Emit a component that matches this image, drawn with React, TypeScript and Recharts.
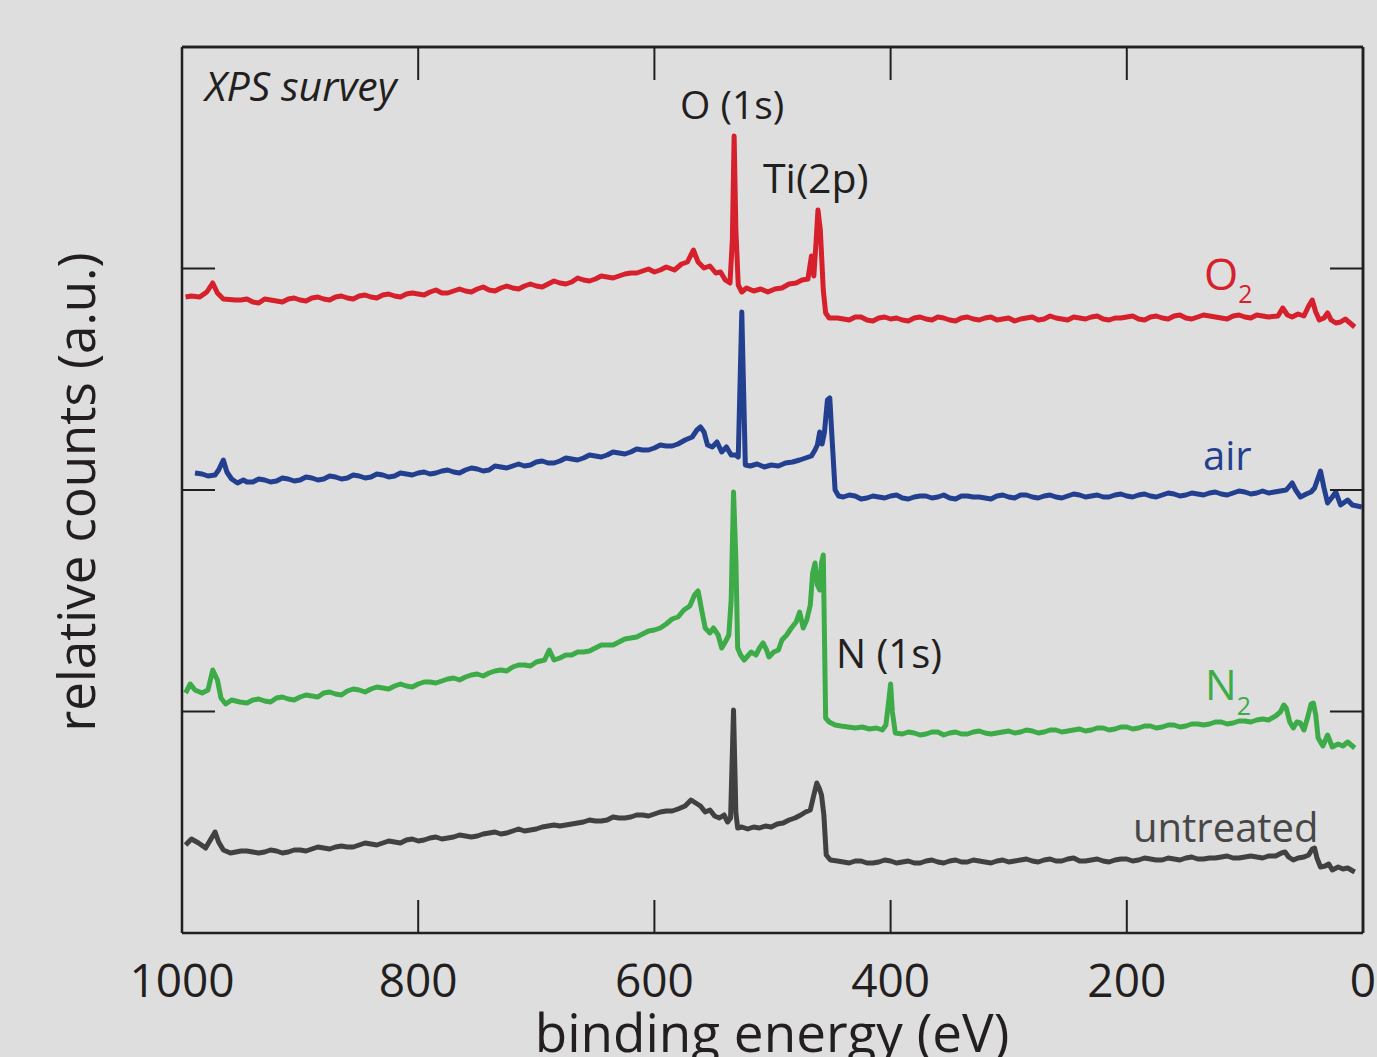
import { LineChart, Line, XAxis, YAxis, ReferenceLine } from 'recharts';

const W = 1377;
const H = 1057;
const INK = '#231f20';
const FONT = '"Open Sans", "Noto Sans", sans-serif';

const RED = '#d6202b';
const BLUE = '#233f8f';
const GREEN = '#3dab48';
const GRAY = '#414141';

// [binding energy (eV), relative counts]
const untreated: [number, number][] = [
  [997, 88], [992, 94], [986, 90], [980, 85], [976, 93], [972, 101], [969, 91], [965, 83], [959, 80], [950, 82],
  [940, 81], [930, 81], [920, 82], [910, 81], [900, 83], [890, 84], [880, 85], [870, 86], [860, 86], [850, 88],
  [840, 89], [830, 90], [820, 91], [810, 93], [800, 92], [790, 95], [780, 94], [770, 96], [760, 97], [750, 97],
  [740, 100], [730, 99], [720, 102], [710, 102], [700, 104], [690, 107], [680, 107], [670, 109], [660, 111], [650, 112],
  [640, 113], [630, 115], [620, 116], [610, 118], [600, 119], [590, 122], [580, 124], [574, 127], [569, 133], [565, 130],
  [561, 127], [557, 121], [553, 123], [549, 117], [545, 115], [541, 118], [538, 111], [535.5, 115], [533, 223], [531, 120],
  [529.5, 105], [526, 106], [521, 104], [516, 106], [511, 105], [506, 107], [501, 106], [496, 109], [491, 110], [486, 113],
  [481, 115], [476, 118], [472, 121], [468, 123], [465, 138], [462.5, 150], [460.5, 145], [458.5, 138], [456.5, 118], [454.5, 78],
  [451, 73], [445, 72], [440, 71], [430, 72], [420, 70], [410, 71], [400, 72], [390, 71], [380, 70], [370, 72],
  [360, 71], [350, 72], [340, 71], [330, 73], [320, 71], [310, 72], [300, 71], [290, 73], [280, 72], [270, 73],
  [260, 72], [250, 74], [240, 72], [230, 73], [220, 72], [210, 73], [200, 74], [190, 73], [180, 74], [170, 73],
  [160, 74], [150, 75], [140, 74], [130, 75], [120, 76], [110, 75], [100, 76], [90, 76], [80, 77], [74, 77],
  [69, 80], [66, 81], [63, 76], [59, 73], [55, 75], [50, 76], [46, 78], [43, 84], [41, 85], [39, 75],
  [36, 66], [32, 67], [29, 69], [26, 63], [21, 66], [17, 64], [13, 65], [7, 61],
];
// extra readings between the 10 eV steps (the fine noise on the background)
const untreatedFine: [number, number][] = [
  [945, 82], [935, 80], [925, 83], [915, 80], [905, 83], [895, 82], [885, 86], [875, 84], [865, 87], [855, 86],
  [845, 90], [835, 88], [825, 92], [815, 90], [805, 94], [795, 93], [785, 96], [775, 95], [765, 98], [755, 96],
  [745, 99], [735, 101], [725, 100], [715, 104], [705, 103], [695, 106], [685, 108], [675, 108], [665, 110], [655, 113],
  [645, 112], [635, 116], [625, 115], [615, 118], [605, 117], [595, 121], [585, 122],
  [435, 70], [425, 72], [415, 70], [405, 73], [395, 70], [385, 72], [375, 70], [365, 73], [355, 70], [345, 73],
  [335, 71], [325, 72], [315, 70], [305, 73], [295, 72], [285, 74], [275, 71], [265, 74], [255, 72], [245, 75],
  [235, 72], [225, 74], [215, 71], [205, 74], [195, 72], [185, 75], [175, 73], [165, 75], [155, 73], [145, 76],
  [135, 74], [125, 75], [115, 77], [105, 75], [95, 77], [85, 75],
];

const nitrogen: [number, number][] = [
  [997, 240], [993, 249], [989, 243], [983, 240], [978, 243], [974, 263], [970, 253], [967, 235], [963, 229], [958, 233],
  [951, 231], [940, 233], [930, 232], [920, 235], [910, 234], [900, 236], [890, 237], [880, 240], [870, 239], [860, 242],
  [850, 243], [840, 244], [830, 245], [820, 247], [810, 247], [800, 249], [790, 251], [780, 252], [770, 255], [760, 256],
  [750, 259], [740, 260], [730, 263], [720, 266], [710, 268], [700, 271], [693, 273], [689, 283], [685, 273], [680, 275],
  [670, 278], [660, 281], [650, 285], [640, 288], [630, 291], [620, 295], [610, 299], [600, 303], [590, 309], [580, 316],
  [575, 323], [570, 327], [566, 338], [563, 342], [560, 323], [557, 305], [553, 300], [550, 305], [546, 298], [543, 285],
  [540, 291], [537, 298], [535, 333], [533, 441], [531, 373], [529.5, 285], [527, 278], [524, 273], [521, 277], [518, 281],
  [514, 278], [511, 285], [508, 290], [505, 283], [503, 276], [499, 281], [495, 283], [492, 293], [488, 298], [484, 305],
  [480, 311], [477, 321], [474, 305], [471, 313], [468, 328], [466, 360], [464, 370], [462, 348], [460, 343], [458.5, 370],
  [457, 378], [455, 215], [452, 211], [447, 208], [442, 207], [436, 206], [430, 205], [424, 206], [418, 204], [412, 205],
  [407, 203], [404, 208], [401.5, 233], [400, 249], [398.5, 221], [396, 200], [390, 199], [380, 200], [370, 199], [360, 201],
  [350, 200], [340, 199], [330, 201], [320, 200], [310, 200], [300, 202], [290, 201], [280, 202], [270, 201], [260, 203],
  [250, 202], [240, 204], [230, 203], [220, 205], [210, 204], [200, 206], [190, 205], [180, 207], [170, 206], [160, 208],
  [150, 207], [140, 209], [130, 209], [120, 211], [110, 210], [100, 212], [90, 213], [80, 213], [74, 217], [70, 221],
  [67, 228], [65, 225], [62, 211], [59, 205], [56, 211], [53, 210], [50, 203], [47, 215], [44, 229], [42, 230],
  [40, 218], [38, 195], [34, 187], [30, 198], [26, 186], [21, 189], [17, 187], [13, 191], [7, 185],
];
const nitrogenFine: [number, number][] = [
  [945, 230], [935, 234], [925, 231], [915, 236], [905, 233], [895, 238], [885, 236], [875, 241], [865, 238], [855, 244],
  [845, 241], [835, 246], [825, 244], [815, 249], [805, 246], [795, 251], [785, 250], [775, 254], [765, 253], [755, 258],
  [745, 257], [735, 262], [725, 262], [715, 268], [705, 267], [675, 278], [665, 281], [655, 282], [645, 288], [635, 288],
  [625, 294], [615, 296], [605, 302], [595, 305], [585, 314],
  [385, 201], [375, 198], [365, 201], [355, 198], [345, 201], [335, 199], [325, 202], [315, 199], [305, 201], [295, 200],
  [285, 203], [275, 200], [265, 203], [255, 201], [245, 203], [235, 202], [225, 205], [215, 203], [205, 206], [195, 204],
  [185, 207], [175, 205], [165, 208], [155, 206], [145, 209], [135, 208], [125, 211], [115, 209], [105, 212], [95, 211],
  [85, 214],
];

const air: [number, number][] = [
  [989, 460], [983, 459], [978, 457], [972, 458], [969, 463], [965, 473], [962, 461], [958, 454], [953, 450], [948, 453],
  [940, 451], [930, 453], [920, 452], [910, 454], [900, 453], [890, 455], [880, 454], [870, 456], [860, 455], [850, 457],
  [840, 456], [830, 458], [820, 457], [810, 459], [800, 460], [790, 459], [780, 462], [770, 461], [760, 463], [750, 464],
  [740, 463], [730, 466], [720, 467], [710, 467], [700, 471], [690, 470], [680, 472], [670, 474], [660, 475], [650, 477],
  [640, 478], [630, 480], [620, 481], [610, 483], [600, 485], [590, 487], [580, 489], [574, 493], [568, 496], [564, 503],
  [561, 506], [558, 501], [555, 488], [551, 486], [547, 491], [543, 481], [539, 486], [535, 478], [531, 478], [529, 476],
  [526, 621], [523, 468], [519, 467], [513, 469], [507, 466], [501, 468], [495, 467], [489, 470], [483, 471], [477, 473],
  [472, 475], [467, 477], [464, 483], [462, 488], [460, 501], [458, 489], [456, 501], [453.5, 533], [451.5, 535], [449.5, 493],
  [447, 443], [444, 437], [440, 436], [430, 437], [420, 435], [410, 436], [400, 437], [390, 435], [380, 436], [370, 437],
  [360, 436], [350, 435], [340, 437], [330, 436], [320, 435], [310, 437], [300, 436], [290, 438], [280, 436], [270, 437],
  [260, 436], [250, 437], [240, 438], [230, 437], [220, 436], [210, 438], [200, 437], [190, 438], [180, 437], [170, 438],
  [160, 439], [150, 438], [140, 439], [130, 440], [120, 439], [110, 440], [100, 441], [90, 440], [80, 440], [75, 441],
  [70, 442], [65, 443], [60, 450], [57, 443], [53, 436], [48, 439], [44, 441], [41, 445], [36, 462], [33, 445],
  [30, 430], [26, 436], [23, 441], [19, 428], [13, 433], [9, 428], [1, 426],
];
const airFine: [number, number][] = [
  [945, 451], [935, 454], [925, 451], [915, 455], [905, 452], [895, 456], [885, 453], [875, 457], [865, 454], [855, 458],
  [845, 455], [835, 459], [825, 456], [815, 460], [805, 458], [795, 461], [785, 460], [775, 463], [765, 460], [755, 465],
  [745, 462], [735, 467], [725, 465], [715, 469], [705, 468], [695, 472], [685, 470], [675, 475], [665, 473], [655, 478],
  [645, 476], [635, 481], [625, 479], [615, 484], [605, 483], [595, 488], [585, 487],
  [435, 438], [425, 434], [415, 437], [405, 435], [395, 438], [385, 434], [375, 437], [365, 435], [355, 438], [345, 434],
  [335, 437], [325, 436], [315, 434], [305, 438], [295, 435], [285, 438], [275, 435], [265, 438], [255, 435], [245, 439],
  [235, 436], [225, 438], [215, 436], [205, 439], [195, 436], [185, 439], [175, 436], [165, 440], [155, 437], [145, 440],
  [135, 438], [125, 441], [115, 438], [105, 442], [95, 439], [85, 442],
];

const oxygen: [number, number][] = [
  [997, 636], [992, 637], [985, 636], [979, 641], [974, 650], [970, 640], [965, 634], [955, 633], [950, 633], [940, 631],
  [930, 634], [920, 632], [910, 634], [900, 633], [890, 635], [880, 634], [870, 636], [860, 635], [850, 637], [840, 636],
  [830, 638], [820, 637], [810, 639], [800, 639], [790, 641], [780, 640], [770, 642], [760, 642], [750, 644], [740, 643],
  [730, 645], [720, 645], [710, 647], [700, 647], [690, 649], [680, 650], [670, 651], [660, 653], [650, 654], [640, 656],
  [630, 657], [620, 660], [610, 662], [600, 661], [590, 666], [583, 663], [577, 669], [572, 671], [567, 683], [563, 671],
  [558, 665], [553, 667], [548, 660], [544, 661], [540, 653], [536, 650], [534, 693], [532.5, 797], [531, 703], [529, 648],
  [526, 641], [522, 645], [516, 642], [510, 644], [504, 641], [498, 644], [492, 645], [486, 649], [480, 650], [475, 653],
  [470, 654], [467, 677], [465, 657], [463, 693], [461.5, 723], [459.5, 703], [457, 643], [455, 620], [452, 615], [445, 615],
  [440, 614], [430, 616], [420, 613], [410, 615], [400, 614], [390, 613], [380, 615], [370, 614], [360, 616], [350, 613],
  [340, 615], [330, 614], [320, 615], [310, 613], [300, 615], [290, 614], [280, 616], [270, 614], [260, 615], [250, 613],
  [240, 615], [230, 616], [220, 614], [210, 615], [200, 616], [190, 614], [180, 616], [170, 615], [160, 617], [150, 615],
  [140, 616], [130, 617], [120, 615], [110, 617], [100, 616], [90, 618], [80, 616], [72, 617], [68, 625], [64, 618],
  [60, 616], [55, 619], [50, 617], [46, 627], [43, 633], [40, 621], [37, 613], [33, 615], [30, 620], [27, 613],
  [23, 610], [19, 611], [15, 614], [11, 610], [7, 606],
];
const oxygenFine: [number, number][] = [
  [945, 634], [935, 630], [925, 633], [915, 631], [905, 635], [895, 632], [885, 636], [875, 633], [865, 637], [855, 634],
  [845, 638], [835, 635], [825, 639], [815, 636], [805, 640], [795, 638], [785, 643], [775, 640], [765, 644], [755, 641],
  [745, 646], [735, 642], [725, 647], [715, 644], [705, 649], [695, 646], [685, 652], [675, 649], [665, 655], [655, 652],
  [645, 657], [635, 655], [625, 659], [615, 660], [605, 664], [595, 663],
  [435, 613], [425, 616], [415, 612], [405, 616], [395, 615], [385, 612], [375, 616], [365, 613], [355, 615], [345, 612],
  [335, 616], [325, 613], [315, 616], [305, 614], [295, 612], [285, 615], [275, 613], [265, 617], [255, 614], [245, 616],
  [235, 614], [225, 617], [215, 613], [205, 615], [195, 617], [185, 613], [175, 617], [165, 614], [155, 618], [145, 614],
  [135, 618], [125, 616], [115, 614], [105, 618], [95, 615], [85, 617],
];

const energyTicks = [1000, 800, 600, 400, 200, 0];
const innerEnergyTicks = [800, 600, 400, 200];
const countTicks = [221.5, 443, 664.5];
const countMax = 886;
const energyMax = 1000;

// merge the coarse and fine readings, high binding energy first
const toPoints = (...parts: [number, number][][]) =>
  parts
    .flat()
    .map(([e, c]) => ({ e, c }))
    .sort((a, b) => b.e - a.e);

const TICK = 33;

const BottomTick = ({ x, y, payload }: any) => (
  <g>
    <line x1={x} y1={y} x2={x} y2={y - TICK} stroke={INK} strokeWidth={2} />
    <text x={x} y={y + 64} textAnchor="middle" fontSize={46} fill={INK} fontFamily={FONT}>
      {payload.value}
    </text>
  </g>
);

const TopTick = ({ x, y }: any) => <line x1={x} y1={y} x2={x} y2={y + TICK} stroke={INK} strokeWidth={2} />;
const LeftTick = ({ x, y }: any) => <line x1={x} y1={y} x2={x + TICK} y2={y} stroke={INK} strokeWidth={2} />;
const RightTick = ({ x, y }: any) => <line x1={x} y1={y} x2={x - TICK} y2={y} stroke={INK} strokeWidth={2} />;

const axisLine = { stroke: INK, strokeWidth: 2.5 };

export default function App() {
  // the lower two spectra sit on the bottom/left axes, the upper two on the top/right ones
  // (same domains, so same scale) so that all four frame axes get drawn
  const series = [
    { key: 'untreated', data: toPoints(untreated, untreatedFine), color: GRAY, xId: 'b', yId: 'l' },
    { key: 'N2', data: toPoints(nitrogen, nitrogenFine), color: GREEN, xId: 'b', yId: 'l' },
    { key: 'air', data: toPoints(air, airFine), color: BLUE, xId: 't', yId: 'r' },
    { key: 'O2', data: toPoints(oxygen, oxygenFine), color: RED, xId: 't', yId: 'r' },
  ];

  return (
    <div style={{ position: 'absolute', left: 0, top: 0, width: W, height: H, background: '#dedede', overflow: 'hidden' }}>
      <LineChart width={W} height={H} margin={{ top: 46, right: 0, bottom: 0, left: 0 }}>
        <XAxis
          xAxisId="b"
          type="number"
          dataKey="e"
          domain={[0, energyMax]}
          reversed
          ticks={energyTicks}
          interval={0}
          height={124}
          tickSize={0}
          tickMargin={0}
          tickLine={false}
          axisLine={axisLine}
          tick={<BottomTick />}
        />
        <XAxis
          xAxisId="t"
          orientation="top"
          type="number"
          dataKey="e"
          domain={[0, energyMax]}
          reversed
          ticks={innerEnergyTicks}
          interval={0}
          height={1}
          tickSize={0}
          tickMargin={0}
          tickLine={false}
          axisLine={axisLine}
          tick={<TopTick />}
        />
        <YAxis
          yAxisId="l"
          type="number"
          domain={[0, countMax]}
          ticks={countTicks}
          interval={0}
          width={182}
          tickSize={0}
          tickMargin={0}
          tickLine={false}
          axisLine={axisLine}
          tick={<LeftTick />}
        />
        <YAxis
          yAxisId="r"
          orientation="right"
          type="number"
          domain={[0, countMax]}
          ticks={countTicks}
          interval={0}
          width={14}
          tickSize={0}
          tickMargin={0}
          tickLine={false}
          axisLine={axisLine}
          tick={<RightTick />}
        />
        {/* close the frame on the right and top edges */}
        <ReferenceLine xAxisId="b" yAxisId="l" x={0} stroke={INK} strokeWidth={2.5} ifOverflow="visible" />
        <ReferenceLine xAxisId="b" yAxisId="l" y={countMax} stroke={INK} strokeWidth={2.5} ifOverflow="visible" />
        {series.map((s) => (
          <Line
            key={s.key}
            xAxisId={s.xId}
            yAxisId={s.yId}
            data={s.data}
            dataKey="c"
            type="linear"
            stroke={s.color}
            strokeWidth={5}
            strokeLinejoin="round"
            dot={false}
            activeDot={false}
            isAnimationActive={false}
          />
        ))}
      </LineChart>

      <svg width={W} height={H} style={{ position: 'absolute', left: 0, top: 0, pointerEvents: 'none' }} fontFamily={FONT}>
        <text x={205} y={101} fontSize={41} fontStyle="italic" fill={INK}>XPS survey</text>
        <text x={680} y={119} fontSize={39} fill={INK}>O (1s)</text>
        <text x={763} y={193} fontSize={41} fill={INK}>Ti(2p)</text>
        <text x={836} y={668} fontSize={40} fill={INK}>N (1s)</text>
        <text x={1204} y={290} fontSize={44} fill={RED}>
          O<tspan fontSize={25} dy={13}>2</tspan>
        </text>
        <text x={1203} y={470} fontSize={40} fill={BLUE}>air</text>
        <text x={1205} y={700} fontSize={42} fill={GREEN}>
          N<tspan fontSize={25} dy={15}>2</tspan>
        </text>
        <text x={1133} y={842} fontSize={40} fill="#474747">untreated</text>
        <text transform="translate(95,492) rotate(-90)" textAnchor="middle" fontSize={51} fill={INK}>
          relative counts (a.u.)
        </text>
        <text x={772} y={1052} textAnchor="middle" fontSize={53} fill={INK}>binding energy (eV)</text>
      </svg>
    </div>
  );
}
